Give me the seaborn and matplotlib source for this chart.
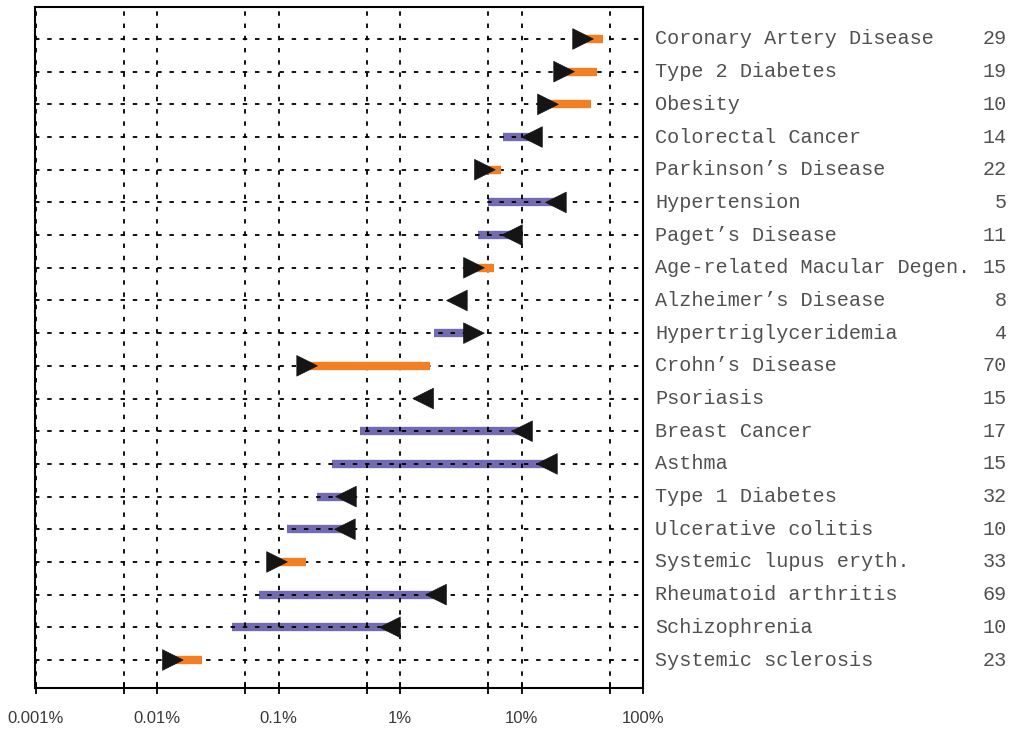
import numpy as np
import pandas as pd
import matplotlib
matplotlib.use("Agg")
import matplotlib.pyplot as plt
import matplotlib.transforms as mtransforms
from matplotlib.ticker import FixedLocator, FixedFormatter, NullFormatter
import seaborn as sns

# ---------------- data ----------------
diseases = [
    "Coronary Artery Disease", "Type 2 Diabetes", "Obesity", "Colorectal Cancer",
    "Parkinson\u2019s Disease", "Hypertension", "Paget\u2019s Disease",
    "Age-related Macular Degen.", "Alzheimer\u2019s Disease", "Hypertriglyceridemia",
    "Crohn\u2019s Disease", "Psoriasis", "Breast Cancer", "Asthma", "Type 1 Diabetes",
    "Ulcerative colitis", "Systemic lupus eryth.", "Rheumatoid arthritis",
    "Schizophrenia", "Systemic sclerosis",
]
counts = [29, 19, 10, 14, 22, 5, 11, 15, 8, 4, 70, 15, 17, 15, 32, 10, 33, 69, 10, 23]
# percent values
bar_from = [32.1, 22.4, 16.5, 7.04, 5.0, 5.3, 4.39, 4.06, 2.94, 1.91,
            0.172, 1.55, 0.469, 0.276, 0.207, 0.117, 0.0972, 0.0691, 0.0414, 0.0135]
bar_to = [46.9, 41.8, 37.3, 12.2, 6.8, 19.2, 8.35, 5.94, 2.94, 4.06,
          1.77, 1.55, 10.1, 16.2, 0.359, 0.352, 0.168, 1.98, 0.827, 0.0235]
marker_at = [32.1, 22.4, 16.5, 12.2, 5.0, 19.2, 8.35, 4.06, 2.94, 4.06,
             0.172, 1.55, 10.1, 16.2, 0.359, 0.352, 0.0972, 1.98, 0.827, 0.0135]
marker_dir = ["right", "right", "right", "left", "right", "left", "left", "right", "left", "right",
              "right", "left", "left", "left", "left", "left", "right", "left", "left", "right"]
bar_group = ["orange", "orange", "orange", "purple", "orange", "purple", "purple", "orange", "purple", "purple",
             "orange", "purple", "purple", "purple", "purple", "purple", "orange", "purple", "purple", "orange"]
tick_values = [0.001, 0.01, 0.1, 1, 10, 100]
tick_labels = ["0.001%", "0.01%", "0.1%", "1%", "10%", "100%"]

df = pd.DataFrame({
    "disease": diseases, "count": counts, "bar_from": bar_from, "bar_to": bar_to,
    "marker_at": marker_at, "marker_dir": marker_dir, "group": bar_group,
})
df["row"] = np.arange(len(df))

# ---------------- style ----------------
sns.set_style("white")
plt.rcParams["lines.scale_dashes"] = False
plt.rcParams["font.family"] = ["Liberation Sans", "DejaVu Sans"]

W, H = 1012, 733
fig = plt.figure(figsize=(W / 100, H / 100), dpi=100)
ax = fig.add_axes([35.5 / W, 1 - 688 / H, (643 - 35.5) / W, (688 - 7) / H])

colors = {"orange": "#f37f22", "purple": "#736bb2"}
zorders = {"orange": 3.0, "purple": 1.0}

for grp in ["purple", "orange"]:
    sub = df[df["group"] == grp]
    ax.hlines(sub["row"], sub["bar_from"], sub["bar_to"], colors=colors[grp],
              linewidth=6, zorder=zorders[grp], capstyle="butt")

sns.scatterplot(data=df, x="marker_at", y="row", style="marker_dir",
                markers={"right": ">", "left": "<"}, color="#151515",
                edgecolor="#151515", linewidth=0.5, s=220, legend=False,
                ax=ax, zorder=4)

ax.set_xscale("log")
ax.set_xlim(0.001, 100)
n = len(df)
ax.set_ylim(n - 1 + 28 / 32.7, -32 / 32.7)

# ticks / grid
minor = [5.35 * t for t in tick_values[:-1]]
ax.xaxis.set_major_locator(FixedLocator(tick_values))
ax.xaxis.set_major_formatter(FixedFormatter(tick_labels))
ax.xaxis.set_minor_locator(FixedLocator(minor))
ax.xaxis.set_minor_formatter(NullFormatter())
ax.tick_params(axis="x", which="both", direction="inout", length=9, width=1.3,
               color="black", bottom=True, pad=12, labelsize=12, labelcolor="#3a3a3a")
ax.set_yticks(df["row"])
ax.set_yticklabels([])
ax.tick_params(axis="y", length=0)
dash = (0, (3.2, 5.6))
ax.set_axisbelow(False)  # axis (grid) zorder 2.5: above purple, below orange
ax.grid(True, axis="x", which="both", color="black", linestyle=dash, linewidth=1.3)
ax.grid(True, axis="y", which="major", color="black", linestyle=dash, linewidth=1.3)

ax.set_xlabel("")
ax.set_ylabel("")
for sp in ax.spines.values():
    sp.set_visible(True)
    sp.set_color("black")
    sp.set_linewidth(1.5)
    sp.set_zorder(5)

# right-hand labels
tr = mtransforms.blended_transform_factory(fig.transFigure, ax.transData)
for _, r in df.iterrows():
    ax.text(655 / W, r["row"], r["disease"], transform=tr, ha="left", va="center",
            family=["Liberation Mono", "DejaVu Sans Mono"], fontsize=14.5, color="#505050")
    ax.text(1007 / W, r["row"], str(r["count"]), transform=tr, ha="right", va="center",
            family=["Liberation Mono", "DejaVu Sans Mono"], fontsize=14.5, color="#505050")

fig.savefig("out.png", dpi=100)
